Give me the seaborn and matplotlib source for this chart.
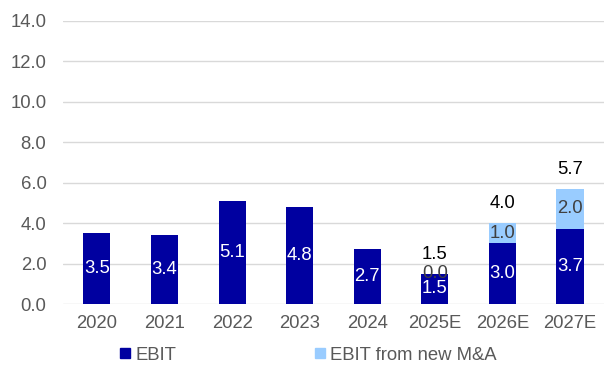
import matplotlib
matplotlib.use("Agg")
import matplotlib.pyplot as plt
from matplotlib.lines import Line2D
import seaborn as sns
import pandas as pd

years = ["2020", "2021", "2022", "2023", "2024", "2025E", "2026E", "2027E"]
ebit = [3.5, 3.4, 5.1, 4.8, 2.7, 1.5, 3.0, 3.7]
ebit_mna = [None, None, None, None, None, 0.0, 1.0, 2.0]

dark_blue = "#0000A0"
light_blue = "#99CCFF"
text_gray = "#595959"

sns.set_theme(style="white")
plt.rcParams["font.family"] = ["Liberation Sans", "DejaVu Sans"]

df = pd.DataFrame({"year": years, "ebit": ebit,
                   "mna": [v if v is not None else 0.0 for v in ebit_mna]})
df["total"] = df["ebit"] + df["mna"]

fig, ax = plt.subplots(figsize=(6.13, 3.65), dpi=100)
fig.subplots_adjust(left=0.103, right=0.985, top=0.943, bottom=0.167)

# stacked look: total bar in light blue, EBIT drawn over it
sns.barplot(data=df, x="year", y="total", color=light_blue, saturation=1,
            width=0.4, linewidth=0, ax=ax)
sns.barplot(data=df, x="year", y="ebit", color=dark_blue, saturation=1,
            width=0.4, linewidth=0, ax=ax)

fs = 13.3
for i, row in df.iterrows():
    ax.text(i, row["ebit"] / 2, f"{row['ebit']:.1f}", ha="center", va="center",
            color="white", fontsize=fs)
    if ebit_mna[i] is not None:
        ax.text(i, row["ebit"] + row["mna"] / 2, f"{row['mna']:.1f}",
                ha="center", va="center", color="#404040", fontsize=fs)
        ax.annotate(f"{row['total']:.1f}", (i, row["total"]), xytext=(0, 8),
                    textcoords="offset points", ha="center", va="bottom",
                    color="black", fontsize=fs)

ax.set_ylim(0, 14)
ax.set_yticks([0, 2, 4, 6, 8, 10, 12, 14])
ax.set_yticklabels([f"{v:.1f}" for v in ax.get_yticks()])
ax.set_xlim(-0.5, len(years) - 0.5)
ax.yaxis.grid(True, color="#D9D9D9", linewidth=1)
ax.set_axisbelow(True)
for s in ax.spines.values():
    s.set_visible(False)
ax.set_xlabel("")
ax.set_ylabel("")
ax.tick_params(axis="both", length=0, labelsize=fs, colors=text_gray, pad=12)
ax.tick_params(axis="x", pad=8)

handles = [Line2D([], [], marker="s", linestyle="none", markersize=7,
                  markerfacecolor=dark_blue, markeredgecolor=dark_blue),
           Line2D([], [], marker="s", linestyle="none", markersize=7,
                  markerfacecolor=light_blue, markeredgecolor=light_blue)]
leg = fig.legend(handles, ["EBIT", "EBIT from new M&A"], ncol=2,
                 loc="lower left", bbox_to_anchor=(0.162, -0.042), frameon=False,
                 fontsize=fs, handletextpad=0.05, columnspacing=7.3,
                 handlelength=1.0)
for t in leg.get_texts():
    t.set_color(text_gray)

fig.savefig("out.png", dpi=100)
